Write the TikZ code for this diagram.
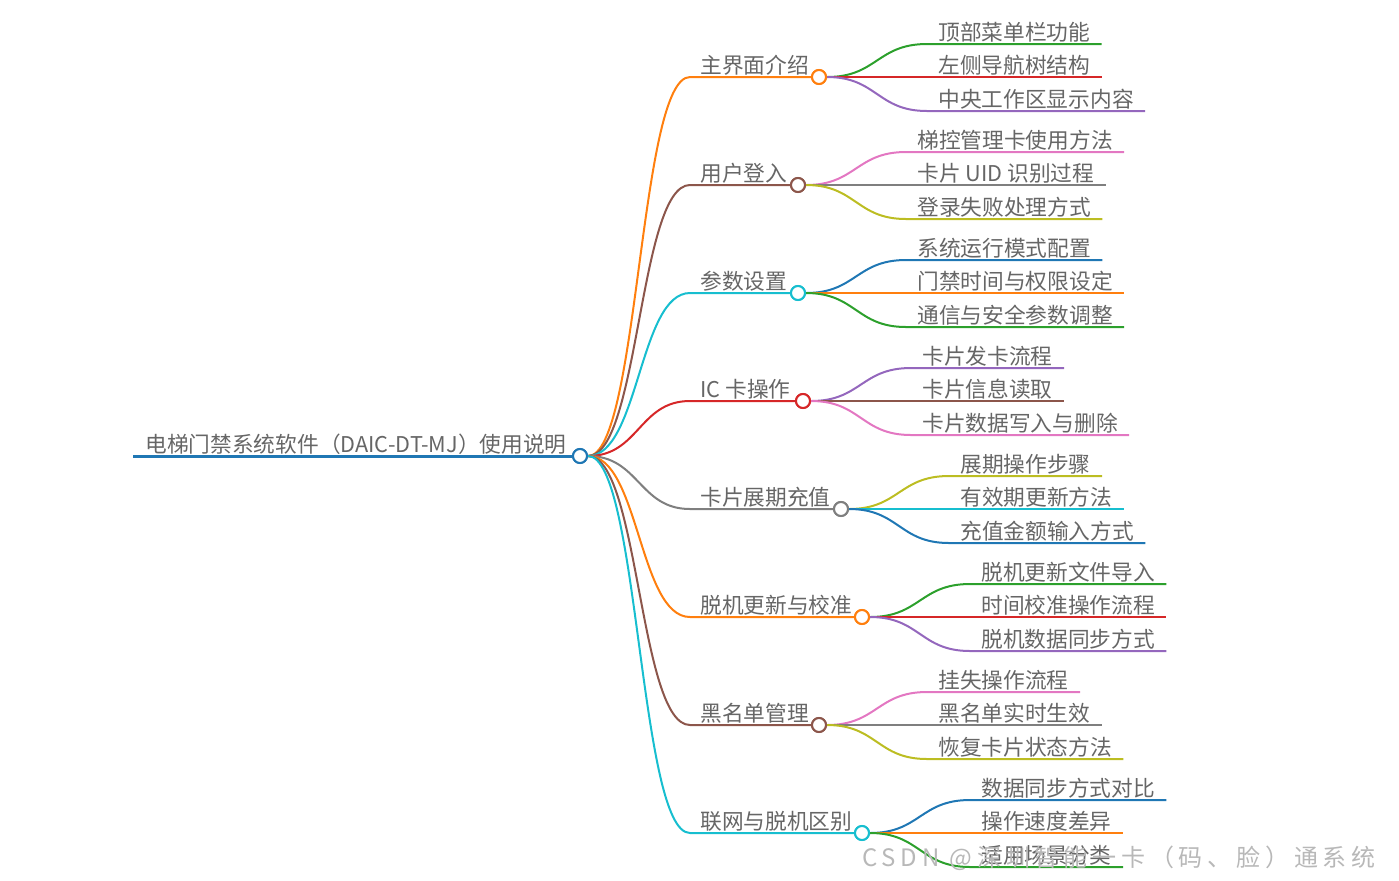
\documentclass[tikz,border=0pt]{standalone}
\usepackage{fontspec}
\usepackage{xcolor}
\usepackage{tikz}
\usetikzlibrary{positioning,calc}
\setmainfont{Noto Sans CJK SC}

\definecolor{mmblue}{HTML}{1F77B4}
\definecolor{mmorange}{HTML}{FF7F0E}
\definecolor{mmgreen}{HTML}{2CA02C}
\definecolor{mmred}{HTML}{D62728}
\definecolor{mmpurple}{HTML}{9467BD}
\definecolor{mmbrown}{HTML}{8C564B}
\definecolor{mmpink}{HTML}{E377C2}
\definecolor{mmgray}{HTML}{7F7F7F}
\definecolor{mmolive}{HTML}{BCBD22}
\definecolor{mmcyan}{HTML}{17BECF}
\definecolor{txtgray}{HTML}{666666}

\tikzset{
	dot/.style={circle,draw,fill=white,line width=1pt,minimum size=7pt,inner sep=0pt},
	topic/.style={anchor=south west,inner xsep=5pt,inner ysep=1.75pt,text depth=0pt,text=txtgray,font=\fontsize{10.85}{13}\selectfont},
	leaf/.style={topic,inner xsep=5.5pt},
	branch/.style={line width=1pt},
}

\begin{document}
\begin{tikzpicture}[x=0.5pt,y=-0.5pt]
		\useasboundingbox (0,0) rectangle (1399,880);
		% root
		\node (root) [dot,draw=mmblue] at (580,456) {};
		\node (root-t) [topic,inner xsep=6pt] at (133,456) {电梯门禁系统软件（DAIC-DT-MJ）使用说明};
		\draw[mmblue,line width=1.5pt] (root-t.south west) -- (root.west);
		% 主界面介绍
		\node (intro) [dot,draw=mmorange] at (819,77) {};
		\node (intro-t) [topic] at (690,77) {主界面介绍};
		\draw[branch,mmorange] (root.east) .. controls +(51,0) and +(-51,0) .. (intro-t.south west) -- (intro.west);
		\node (intro-a) [leaf] at (927,44) {顶部菜单栏功能};
		\node (intro-b) [leaf] at (927,77) {左侧导航树结构};
		\node (intro-c) [leaf] at (927,111) {中央工作区显示内容};
		\draw[branch,mmgreen] (intro.east) .. controls +(50,0) and +(-50,0) .. (intro-a.south west) -- (intro-a.south east);
		\draw[branch,mmred] (intro.east) -- (intro-b.south west) -- (intro-b.south east);
		\draw[branch,mmpurple] (intro.east) .. controls +(50,0) and +(-50,0) .. (intro-c.south west) -- (intro-c.south east);
		% 用户登入
		\node (login) [dot,draw=mmbrown] at (798,185) {};
		\node (login-t) [topic] at (690,185) {用户登入};
		\draw[branch,mmbrown] (root.east) .. controls +(51,0) and +(-51,0) .. (login-t.south west) -- (login.west);
		\node (login-a) [leaf] at (906,152) {梯控管理卡使用方法};
		\node (login-b) [leaf] at (906,185) {卡片 UID 识别过程};
		\node (login-c) [leaf] at (906,219) {登录失败处理方式};
		\draw[branch,mmpink] (login.east) .. controls +(50,0) and +(-50,0) .. (login-a.south west) -- (login-a.south east);
		\draw[branch,mmgray] (login.east) -- (login-b.south west) -- (login-b.south east);
		\draw[branch,mmolive] (login.east) .. controls +(50,0) and +(-50,0) .. (login-c.south west) -- (login-c.south east);
		% 参数设置
		\node (param) [dot,draw=mmcyan] at (798,293) {};
		\node (param-t) [topic] at (690,293) {参数设置};
		\draw[branch,mmcyan] (root.east) .. controls +(51,0) and +(-51,0) .. (param-t.south west) -- (param.west);
		\node (param-a) [leaf] at (906,260) {系统运行模式配置};
		\node (param-b) [leaf] at (906,293) {门禁时间与权限设定};
		\node (param-c) [leaf] at (906,327) {通信与安全参数调整};
		\draw[branch,mmblue] (param.east) .. controls +(50,0) and +(-50,0) .. (param-a.south west) -- (param-a.south east);
		\draw[branch,mmorange] (param.east) -- (param-b.south west) -- (param-b.south east);
		\draw[branch,mmgreen] (param.east) .. controls +(50,0) and +(-50,0) .. (param-c.south west) -- (param-c.south east);
		% IC 卡操作
		\node (card) [dot,draw=mmred] at (803,401) {};
		\node (card-t) [topic] at (690,401) {IC 卡操作};
		\draw[branch,mmred] (root.east) .. controls +(51,0) and +(-51,0) .. (card-t.south west) -- (card.west);
		\node (card-a) [leaf] at (911,368) {卡片发卡流程};
		\node (card-b) [leaf] at (911,401) {卡片信息读取};
		\node (card-c) [leaf] at (911,435) {卡片数据写入与删除};
		\draw[branch,mmpurple] (card.east) .. controls +(50,0) and +(-50,0) .. (card-a.south west) -- (card-a.south east);
		\draw[branch,mmbrown] (card.east) -- (card-b.south west) -- (card-b.south east);
		\draw[branch,mmpink] (card.east) .. controls +(50,0) and +(-50,0) .. (card-c.south west) -- (card-c.south east);
		% 卡片展期充值
		\node (renew) [dot,draw=mmgray] at (841,509) {};
		\node (renew-t) [topic] at (690,509) {卡片展期充值};
		\draw[branch,mmgray] (root.east) .. controls +(51,0) and +(-51,0) .. (renew-t.south west) -- (renew.west);
		\node (renew-a) [leaf] at (949,476) {展期操作步骤};
		\node (renew-b) [leaf] at (949,509) {有效期更新方法};
		\node (renew-c) [leaf] at (949,543) {充值金额输入方式};
		\draw[branch,mmolive] (renew.east) .. controls +(50,0) and +(-50,0) .. (renew-a.south west) -- (renew-a.south east);
		\draw[branch,mmcyan] (renew.east) -- (renew-b.south west) -- (renew-b.south east);
		\draw[branch,mmblue] (renew.east) .. controls +(50,0) and +(-50,0) .. (renew-c.south west) -- (renew-c.south east);
		% 脱机更新与校准
		\node (offline) [dot,draw=mmorange] at (862,617) {};
		\node (offline-t) [topic] at (690,617) {脱机更新与校准};
		\draw[branch,mmorange] (root.east) .. controls +(51,0) and +(-51,0) .. (offline-t.south west) -- (offline.west);
		\node (offline-a) [leaf] at (970,584) {脱机更新文件导入};
		\node (offline-b) [leaf] at (970,617) {时间校准操作流程};
		\node (offline-c) [leaf] at (970,651) {脱机数据同步方式};
		\draw[branch,mmgreen] (offline.east) .. controls +(50,0) and +(-50,0) .. (offline-a.south west) -- (offline-a.south east);
		\draw[branch,mmred] (offline.east) -- (offline-b.south west) -- (offline-b.south east);
		\draw[branch,mmpurple] (offline.east) .. controls +(50,0) and +(-50,0) .. (offline-c.south west) -- (offline-c.south east);
		% 黑名单管理
		\node (black) [dot,draw=mmbrown] at (819,725) {};
		\node (black-t) [topic] at (690,725) {黑名单管理};
		\draw[branch,mmbrown] (root.east) .. controls +(51,0) and +(-51,0) .. (black-t.south west) -- (black.west);
		\node (black-a) [leaf] at (927,692) {挂失操作流程};
		\node (black-b) [leaf] at (927,725) {黑名单实时生效};
		\node (black-c) [leaf] at (927,759) {恢复卡片状态方法};
		\draw[branch,mmpink] (black.east) .. controls +(50,0) and +(-50,0) .. (black-a.south west) -- (black-a.south east);
		\draw[branch,mmgray] (black.east) -- (black-b.south west) -- (black-b.south east);
		\draw[branch,mmolive] (black.east) .. controls +(50,0) and +(-50,0) .. (black-c.south west) -- (black-c.south east);
		% 联网与脱机区别
		\node (diff) [dot,draw=mmcyan] at (862,833) {};
		\node (diff-t) [topic] at (690,833) {联网与脱机区别};
		\draw[branch,mmcyan] (root.east) .. controls +(51,0) and +(-51,0) .. (diff-t.south west) -- (diff.west);
		\node (diff-a) [leaf] at (970,800) {数据同步方式对比};
		\node (diff-b) [leaf] at (970,833) {操作速度差异};
		\node (diff-c) [leaf] at (970,867) {适用场景分类};
		\draw[branch,mmblue] (diff.east) .. controls +(50,0) and +(-50,0) .. (diff-a.south west) -- (diff-a.south east);
		\draw[branch,mmorange] (diff.east) -- (diff-b.south west) -- (diff-b.south east);
		\draw[branch,mmgreen] (diff.east) .. controls +(50,0) and +(-50,0) .. (diff-c.south west) -- (diff-c.south east);
		% circles on top of the curves
		\foreach \n/\c in {root/mmblue,intro/mmorange,login/mmbrown,param/mmcyan,card/mmred,renew/mmgray,offline/mmorange,black/mmbrown,diff/mmcyan}
			\node [dot,draw=\c] at (\n) {};
		% watermark
		\node (mark) [anchor=base west,inner sep=0pt,text=black!28,font=\fontsize{12}{14}\selectfont\addfontfeature{LetterSpace=20}] at (862,866) {CSDN @深圳智能一卡（码、脸）通系统};
	\end{tikzpicture}
\end{document}
